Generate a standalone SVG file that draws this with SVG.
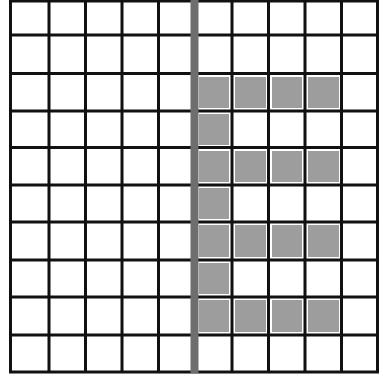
<svg xmlns="http://www.w3.org/2000/svg" width="383" height="382" viewBox="0 0 383 382">
<style>
.g{stroke:#111;stroke-width:3;fill:none}
.c{fill:#9d9d9d}
.m{stroke:#6e6e6e;stroke-width:8;fill:none}
</style>
<rect width="383" height="382" fill="#fff"/>
<g id="shaded">
<rect class="c" x="199" y="77" width="30" height="31"/>
<rect class="c" x="235" y="77" width="31" height="31"/>
<rect class="c" x="272" y="77" width="30" height="31"/>
<rect class="c" x="308" y="77" width="31" height="31"/>
<rect class="c" x="199" y="114" width="30" height="31"/>
<rect class="c" x="199" y="151" width="30" height="31"/>
<rect class="c" x="235" y="151" width="31" height="31"/>
<rect class="c" x="272" y="151" width="30" height="31"/>
<rect class="c" x="308" y="151" width="31" height="31"/>
<rect class="c" x="199" y="188" width="30" height="31"/>
<rect class="c" x="199" y="225" width="30" height="32"/>
<rect class="c" x="235" y="225" width="31" height="32"/>
<rect class="c" x="272" y="225" width="30" height="32"/>
<rect class="c" x="308" y="225" width="31" height="32"/>
<rect class="c" x="199" y="263" width="30" height="31"/>
<rect class="c" x="199" y="300" width="30" height="32"/>
<rect class="c" x="235" y="300" width="31" height="32"/>
<rect class="c" x="272" y="300" width="30" height="32"/>
<rect class="c" x="308" y="300" width="31" height="32"/>
</g>
<g id="grid">
<path class="g" d="M10.5,0V373 M49,0V373 M85.5,0V373 M122,0V373 M158.5,0V373 M232,0V373 M268.5,0V373 M305,0V373 M341.5,0V373 M377.5,0V373"/>
<path class="g" d="M9,1H379 M9,35H379 M9,73.5H379 M9,111H379 M9,147.5H379 M9,185H379 M9,222H379 M9,260H379 M9,297H379 M9,335H379 M9,372H379"/>
</g>
<g id="divider">
<path class="m" d="M194.5,0V373"/>
</g>
</svg>
